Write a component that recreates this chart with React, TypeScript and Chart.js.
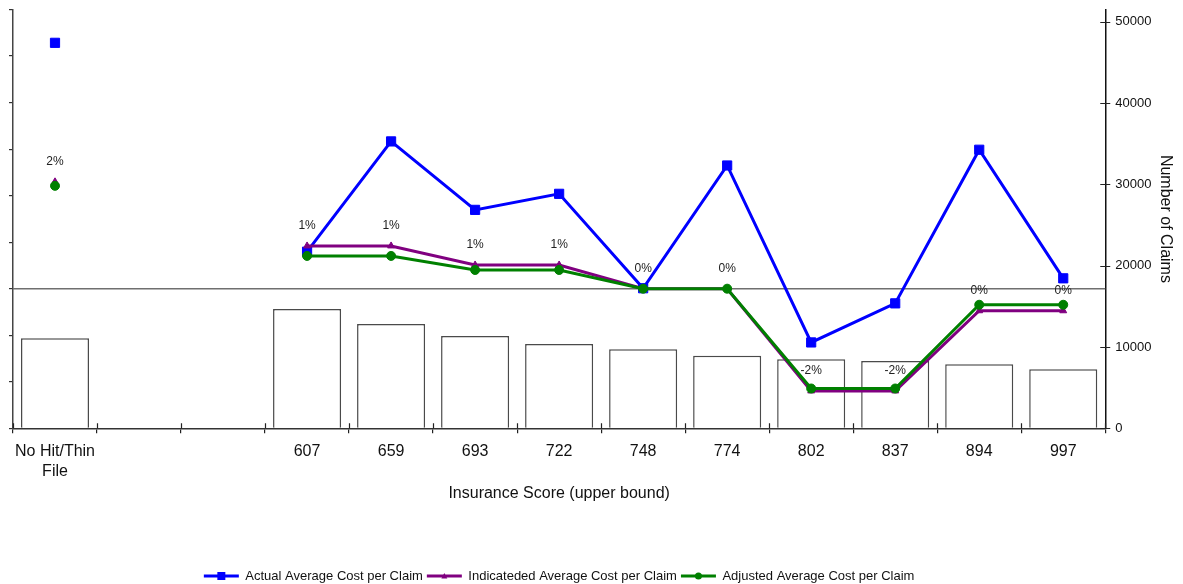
import { useEffect, useRef } from 'react';
import { Chart, registerables } from 'chart.js';

Chart.register(...registerables);

// Score bands (upper bound); the two blank slots separate the no-hit group from scored bands
const categories: (string | string[])[] = [
  ['No Hit/Thin', 'File'], '', '', '607', '659', '693', '722', '748', '774', '802', '837', '894', '997',
];

// Average cost per claim (left axis, unlabeled)
const actualCost = [8284, null, null, 3796, 6165, 4694, 5039, 3010, 5648, 1845, 2685, 5986, 3223];
const indicatedCost = [5297, null, null, 3919, 3919, 3510, 3510, 3000, 3000, 803, 803, 2526, 2526];
const adjustedCost = [5211, null, null, 3704, 3704, 3402, 3402, 3000, 3000, 855, 855, 2655, 2655];

// Number of claims (right axis)
const claimCounts = [11070, null, null, 14670, 12830, 11360, 10380, 9720, 8910, 8490, 8290, 7880, 7270];

// Change labels shown above the indicated series
const changeLabels = ['2%', '', '', '1%', '1%', '1%', '1%', '0%', '0%', '-2%', '-2%', '0%', '0%'];

const costAxisMax = 9000;
const costAxisStep = 1000;
const baseCost = 3000;
const claimAxisMax = 51500;
const claimTickValues = [0, 10000, 20000, 30000, 40000, 50000];

const FONT = "'Liberation Sans', Arial, Helvetica, sans-serif";

const baseLinePlugin = {
  id: 'baseLine',
  beforeDatasetsDraw(chart: any) {
    const { ctx, chartArea } = chart;
    const y = chart.scales.y.getPixelForValue(baseCost);
    ctx.save();
    ctx.strokeStyle = '#6f6f6f';
    ctx.lineWidth = 1.5;
    ctx.beginPath();
    ctx.moveTo(chartArea.left, y);
    ctx.lineTo(chartArea.right, y);
    ctx.stroke();
    ctx.restore();
  },
};

// Crossing tick marks: inner halves on the category axis, both halves on the right axis
const crossTicksPlugin = {
  id: 'crossTicks',
  afterDraw(chart: any) {
    const { ctx, chartArea } = chart;
    const x = chart.scales.x;
    const y1 = chart.scales.y1;
    ctx.save();
    ctx.strokeStyle = '#222';
    ctx.lineWidth = 1.2;
    const n = x.ticks.length;
    const step = n > 1 ? x.getPixelForTick(1) - x.getPixelForTick(0) : 0;
    ctx.beginPath();
    for (let i = 0; i <= n; i++) {
      const px = Math.round(x.getPixelForTick(0) - step / 2 + i * step) + 0.5;
      ctx.moveTo(px, chartArea.bottom - 5);
      ctx.lineTo(px, chartArea.bottom);
    }
    y1.ticks.forEach((t: any) => {
      const py = Math.round(y1.getPixelForValue(t.value)) + 0.5;
      ctx.moveTo(chartArea.right - 5, py);
      ctx.lineTo(chartArea.right + 5, py);
    });
    ctx.stroke();
    ctx.restore();
  },
};

const changeLabelPlugin = {
  id: 'changeLabels',
  afterDatasetsDraw(chart: any) {
    const { ctx } = chart;
    const meta = chart.getDatasetMeta(1);
    ctx.save();
    ctx.font = `12px ${FONT}`;
    ctx.fillStyle = '#222';
    ctx.textAlign = 'center';
    ctx.textBaseline = 'middle';
    meta.data.forEach((el: any, i: number) => {
      const text = changeLabels[i];
      if (!text || indicatedCost[i] == null) return;
      ctx.fillText(text, el.x, el.y - 20.5);
    });
    ctx.restore();
  },
};

function drawMarker(ctx: CanvasRenderingContext2D, style: string, cx: number, cy: number, color: string, r: number) {
  ctx.fillStyle = color;
  ctx.strokeStyle = color;
  ctx.beginPath();
  if (style === 'rect') {
    ctx.rect(cx - r, cy - r, r * 2, r * 2);
  } else if (style === 'triangle') {
    ctx.moveTo(cx, cy - r);
    ctx.lineTo(cx + r, cy + r * 0.8);
    ctx.lineTo(cx - r, cy + r * 0.8);
    ctx.closePath();
  } else {
    ctx.arc(cx, cy, r, 0, Math.PI * 2);
  }
  ctx.fill();
}

// Puts each series' marker on the middle of its legend line
const legendMarkerPlugin = {
  id: 'legendMarkers',
  afterDraw(chart: any) {
    const legend = chart.legend;
    if (!legend || !legend.legendHitBoxes) return;
    const { ctx } = chart;
    const boxWidth = legend.options.labels.boxWidth;
    const fontSize = legend.options.labels.font.size;
    ctx.save();
    legend.legendItems.forEach((item: any, i: number) => {
      const box = legend.legendHitBoxes[i];
      const ds = chart.data.datasets[item.datasetIndex];
      const cx = box.left + boxWidth / 2;
      const cy = box.top + fontSize / 2;
      const sizes: Record<string, number> = { rect: 4, triangle: 3, circle: 3.5 };
      drawMarker(ctx, ds.pointStyle, cx, cy, ds.borderColor, sizes[ds.pointStyle] || 3);
    });
    ctx.restore();
  },
};

export default function App() {
  const canvasRef = useRef<HTMLCanvasElement | null>(null);

  useEffect(() => {
    if (!canvasRef.current) return;
    const chart = new Chart(canvasRef.current, {
      type: 'bar',
      data: {
        labels: categories,
        datasets: [
          {
            type: 'line',
            label: 'Actual Average Cost per Claim',
            data: actualCost,
            yAxisID: 'y',
            borderColor: '#0000ff',
            backgroundColor: '#0000ff',
            borderWidth: 3,
            pointStyle: 'rect',
            pointRadius: 6.5,
            pointBorderWidth: 1,
            spanGaps: false,
            order: 3,
          },
          {
            type: 'line',
            label: 'Indicateded Average Cost per Claim',
            data: indicatedCost,
            yAxisID: 'y',
            borderColor: '#800080',
            backgroundColor: '#800080',
            borderWidth: 3,
            pointStyle: 'triangle',
            pointRadius: 4,
            pointBorderWidth: 1,
            spanGaps: false,
            order: 2,
          },
          {
            type: 'line',
            label: 'Adjusted Average Cost per Claim',
            data: adjustedCost,
            yAxisID: 'y',
            borderColor: '#008000',
            backgroundColor: '#008000',
            borderWidth: 3,
            pointStyle: 'circle',
            pointRadius: 4.5,
            pointBorderWidth: 1,
            spanGaps: false,
            order: 1,
          },
          {
            type: 'bar',
            label: 'Number of Claims',
            data: claimCounts,
            yAxisID: 'y1',
            backgroundColor: '#ffffff',
            borderColor: '#4a4a4a',
            borderWidth: 1.5,
            barPercentage: 0.81,
            categoryPercentage: 1,
            order: 4,
          },
        ],
      } as any,
      options: {
        responsive: false,
        animation: false,
        events: [],
        layout: { padding: { left: 9, top: 9.5, right: 4.4, bottom: -8.5 } },
        plugins: {
          tooltip: { enabled: false },
          legend: {
            position: 'bottom',
            fullSize: false,
            labels: {
              boxWidth: 35,
              boxHeight: 3,
              padding: 4,
              color: '#111',
              font: { family: FONT, size: 13 },
              filter: (item: any) => item.datasetIndex !== 3,
              sort: (a: any, b: any) => a.datasetIndex - b.datasetIndex,
              generateLabels: (c: any) =>
                Chart.defaults.plugins.legend.labels.generateLabels(c).map((it: any) => {
                  const ds = c.data.datasets[it.datasetIndex];
                  return { ...it, fillStyle: ds.borderColor, strokeStyle: ds.borderColor, lineWidth: 0 };
                }),
            },
          },
        },
        scales: {
          x: {
            type: 'category',
            offset: true,
            grid: {
              display: true,
              offset: true,
              drawOnChartArea: false,
              drawTicks: true,
              tickLength: 5,
              color: '#222',
              lineWidth: 1.2,
            },
            border: { display: true, color: '#333', width: 1.5 },
            ticks: {
              autoSkip: false,
              maxRotation: 0,
              minRotation: 0,
              padding: 9,
              color: '#111',
              font: { family: FONT, size: 16, lineHeight: 1.2 },
            },
            title: {
              display: true,
              text: 'Insurance Score (upper bound)',
              color: '#111',
              font: { family: FONT, size: 16, lineHeight: 1.2 },
              padding: { top: -6, bottom: 62.6 },
            },
          },
          y: {
            type: 'linear',
            position: 'left',
            min: 0,
            max: costAxisMax,
            grid: {
              display: true,
              drawOnChartArea: false,
              drawTicks: true,
              tickLength: 4,
              color: '#333',
              lineWidth: 1.2,
            },
            border: { display: true, color: '#444', width: 1.5 },
            ticks: { display: false, stepSize: costAxisStep },
          },
          y1: {
            type: 'linear',
            position: 'right',
            min: 0,
            max: claimAxisMax,
            afterBuildTicks: (scale: any) => {
              scale.ticks = claimTickValues.map((v) => ({ value: v }));
            },
            grid: {
              display: true,
              drawOnChartArea: false,
              drawTicks: true,
              tickLength: 10,
              tickColor: 'rgba(0,0,0,0)',
              color: 'rgba(0,0,0,0)',
            },
            border: { display: true, color: '#111', width: 1.5 },
            ticks: {
              padding: 0,
              color: '#111',
              font: { family: FONT, size: 13 },
              callback: (v: any) => String(v),
            },
            title: {
              display: true,
              text: 'Number of Claims',
              color: '#111',
              font: { family: FONT, size: 16, lineHeight: 1.2 },
              padding: { top: 4, bottom: 4 },
            },
          },
        },
      },
      plugins: [baseLinePlugin, crossTicksPlugin, changeLabelPlugin, legendMarkerPlugin],
    } as any);
    return () => chart.destroy();
  }, []);

  return (
    <div style={{ position: 'fixed', left: 0, top: 0, width: 1183, height: 584, background: '#ffffff' }}>
      <canvas ref={canvasRef} width={1183} height={584} />
    </div>
  );
}
